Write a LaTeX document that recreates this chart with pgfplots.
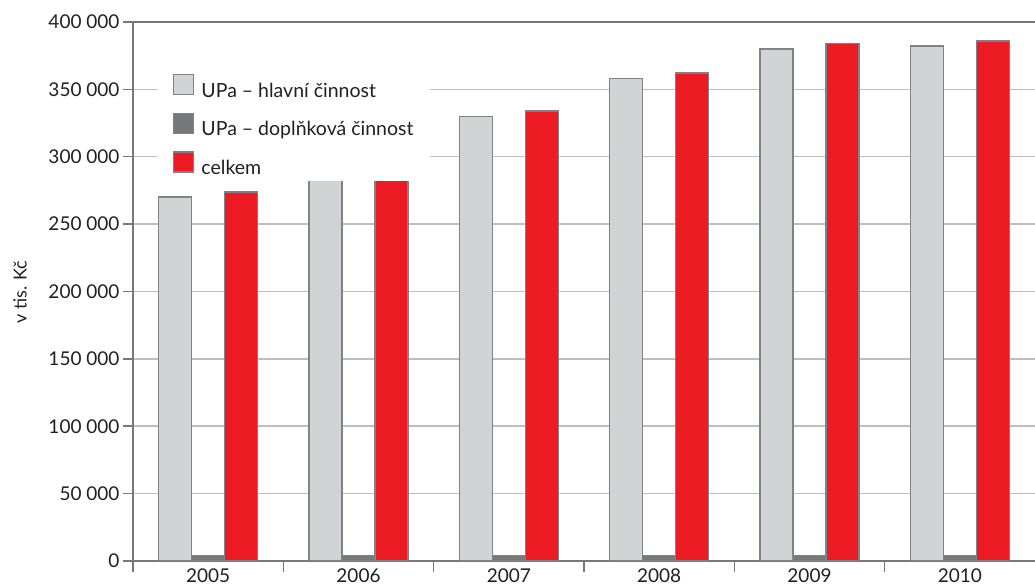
\documentclass[border=0pt]{standalone}
\usepackage{pgfplots}
\pgfplotsset{compat=1.18}
\usepackage{fontspec}
\setmainfont{Lato}
\definecolor{barlight}{HTML}{D1D3D4}
\definecolor{bardark}{HTML}{77787B}
\definecolor{barred}{HTML}{ED1C24}
\definecolor{barline}{HTML}{808285}
\definecolor{gridgray}{HTML}{BCBEC0}
\definecolor{axisgray}{HTML}{77787B}
\definecolor{txt}{HTML}{231F20}
\pgfplotsset{
  legsq/.style={legend image code/.code={\draw[##1,line width=1.5pt] (0pt,-4pt) rectangle (20pt,16pt);}},
}
\begin{document}
\begin{tikzpicture}[x=1pt,y=1pt]
\useasboundingbox (-133,-24) rectangle (902,561);
\begin{axis}[
    at={(0,0)}, anchor=south west,
    scale only axis, width=902pt, height=539pt,
    xmin=-0.5, xmax=5.5, ymin=0, ymax=400000,
    ybar=0pt, bar width=33pt,
    axis x line*=bottom, axis y line*=left,
    axis line style={-, axisgray, line width=1.5pt},
    tick style={axisgray, line width=1.5pt},
    tick align=outside, major tick length=10pt, minor tick length=11pt,
    xtick={0,1,2,3,4,5},
    xticklabels={2005,2006,2007,2008,2009,2010},
    minor xtick={-0.5,0.5,1.5,2.5,3.5,4.5},
    major x tick style={draw=none},
    xticklabel style={inner sep=0pt, yshift=2pt},
    ytick={0,50000,100000,150000,200000,250000,300000,350000,400000},
    yticklabels={0,50 000,100 000,150 000,200 000,250 000,300 000,350 000,400 000},
    scaled y ticks=false,
    ymajorgrids, grid style={gridgray, line width=1.5pt},
    tick label style={font=\fontsize{19}{22}\selectfont, text=txt},
    legend style={at={(rel axis cs:0.0266,0.705)}, anchor=south west,
      draw=none, fill=white, outer sep=0pt, inner xsep=16pt, inner ysep=5pt,
      nodes={inner sep=0pt}, column sep=7pt, row sep=14pt,
      font=\fontsize{19.5}{22}\selectfont, text=txt},
    legend cell align=left,
  ]
  \addplot[legsq, draw=barline, fill=barlight, line width=1.5pt] coordinates {(0,270000) (1,300000) (2,330000) (3,358000) (4,380000) (5,382000)};
  \addplot[legsq, draw=barline, fill=bardark, line width=1.5pt] coordinates {(0,4000) (1,4000) (2,4000) (3,4000) (4,4000) (5,4000)};
  \addplot[legsq, draw=barline, fill=barred, line width=1.5pt] coordinates {(0,274000) (1,304000) (2,334000) (3,362000) (4,384000) (5,386000)};
  \legend{UPa -- hlavní činnost, UPa -- doplňková činnost, celkem}
  \draw[axisgray, line width=1.5pt] (rel axis cs:0,1) -- (rel axis cs:1,1);
\end{axis}
\node[rotate=90, font=\fontsize{18}{20}\selectfont, text=txt] at (-113,269) {v tis. Kč};
\end{tikzpicture}
\end{document}
